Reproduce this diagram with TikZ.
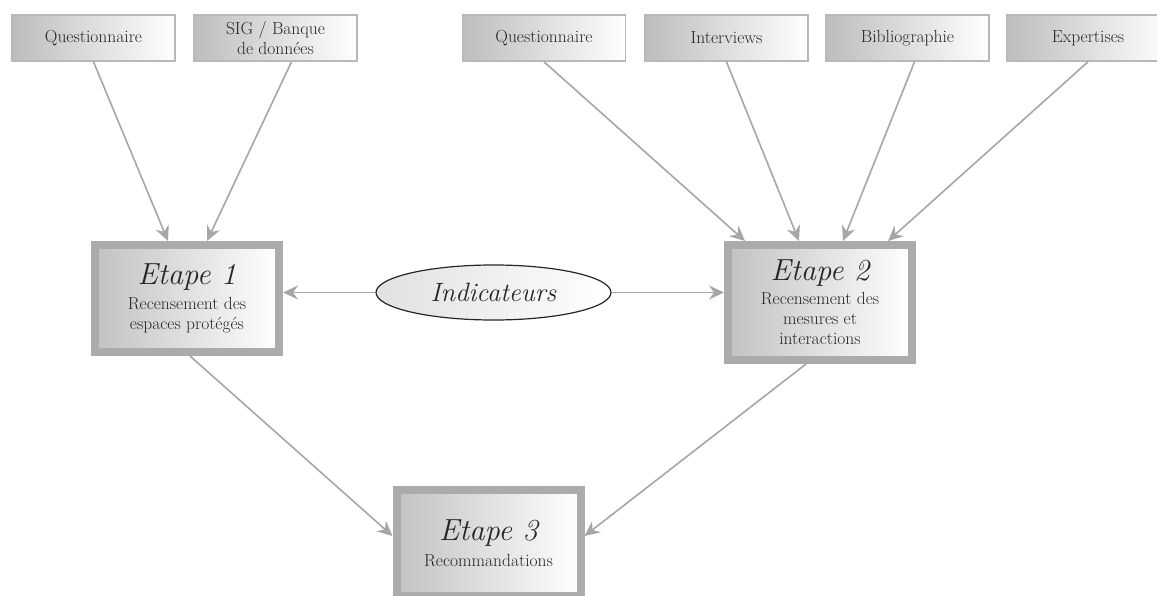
\documentclass[tikz,border=0pt]{standalone}
\usepackage{tikz}
\usetikzlibrary{arrows.meta}
\usetikzlibrary{shapes.geometric}
\usepackage{fontspec}

\begin{document}
\begin{tikzpicture}[x=1pt,y=-1pt,
  source/.style={draw=black!28, line width=1.6pt, left color=black!26, right color=white,
    minimum width=163, minimum height=46, inner sep=0pt, align=center,
    text=black!85, font=\fontsize{17.5}{20}\selectfont},
  etape/.style={draw=black!33, line width=8pt, left color=black!24, right color=white,
    minimum width=184, inner sep=0pt, align=center,
    text=black!85, font=\fontsize{17.5}{20}\selectfont},
  fleche/.style={draw=black!35, line width=1.6pt,
    -{Stealth[length=15pt,width=14pt,inset=5pt]}}]
\useasboundingbox (0,0) rectangle (1157,596);
% sources on top
\node[source] (q1) at (93.5,38) {Questionnaire};
\node[source] (sig) at (275.5,38) {SIG / Banque\\de données};
\node[source] (q2) at (544,38) {Questionnaire};
\node[source] (int) at (726.5,38) {Interviews};
\node[source] (bib) at (907.5,38) {Bibliographie};
\node[source] (exp) at (1088,38) {Expertises};
% the three steps
\node[etape, minimum height=107] (et1) at (187,298.5)
  {{\fontsize{30.5}{30}\selectfont\itshape Etape 1}\\[5pt]Recensement des\\espaces protégés};
\node[etape, minimum height=115] (et2) at (820,302.5)
  {{\fontsize{30.5}{30}\selectfont\itshape Etape 2}\\[4pt]Recensement des\\mesures et\\interactions};
\node[etape, minimum height=106] (et3) at (488.5,543)
  {{\fontsize{30.5}{30}\selectfont\itshape Etape 3}\\[6pt]Recommandations};
% indicators
\node[ellipse, draw=black!85, line width=1.2pt, left color=black!12, right color=white,
  minimum width=235, minimum height=55, inner sep=0pt, text=black!85,
  font=\fontsize{26.5}{28}\selectfont\itshape] (ind) at (493.5,292.5) {Indicateurs};
% arrows
\draw[fleche] (q1.south) -- ([xshift=-19pt]et1.north);
\draw[fleche] ([xshift=16pt]sig.south) -- ([xshift=20pt]et1.north);
\draw[fleche] (q2.south) -- ([xshift=-75pt]et2.north);
\draw[fleche] (int.south) -- ([xshift=-21pt]et2.north);
\draw[fleche] ([xshift=7pt]bib.south) -- ([xshift=23pt]et2.north);
\draw[fleche] (exp.south) -- ([xshift=68pt]et2.north);
\draw[fleche] (ind.west) -- (ind.west -| et1.east);
\draw[fleche] (ind.east) -- (ind.east -| et2.west);
\draw[fleche] ([xshift=3pt]et1.south) -- ([yshift=7pt]et3.west);
\draw[fleche] ([xshift=-14pt]et2.south) -- ([yshift=7pt]et3.east);
\end{tikzpicture}
\end{document}
